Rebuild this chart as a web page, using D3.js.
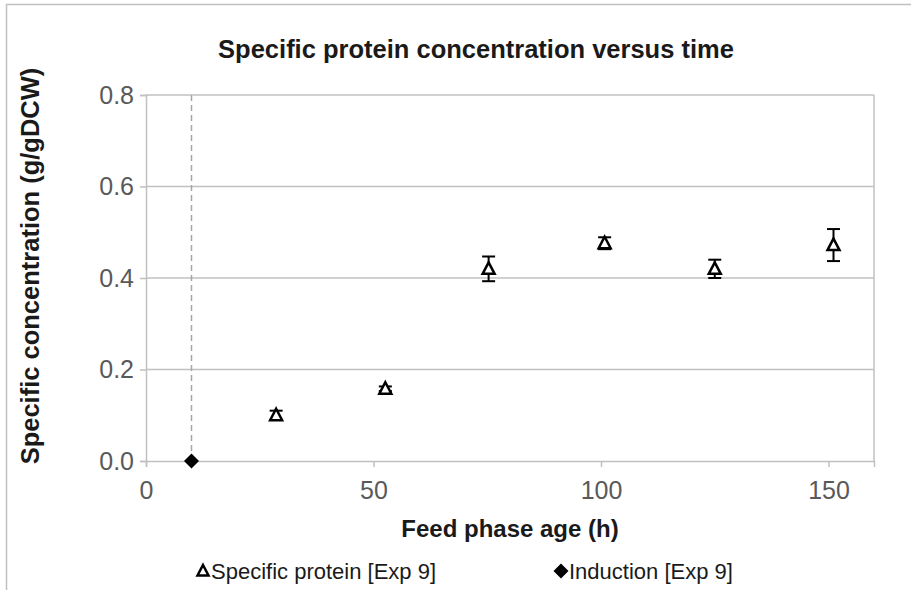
<!DOCTYPE html>
<html>
<head>
<meta charset="utf-8">
<script src="https://cdn.jsdelivr.net/npm/d3@7"></script>
<style>
  html, body { margin: 0; padding: 0; background: #fff; }
  svg { display: block; font-family: "Liberation Sans", Arial, sans-serif; }
</style>
</head>
<body>
<svg id="chart" width="911" height="590"></svg>
<script>
// Feed phase age (h) of each sample and its specific protein concentration (g/gDCW)
const sampleTimes = [28.6, 52.6, 75.3, 100.8, 125.0, 151.1];
const proteinValues = [0.100, 0.158, 0.420, 0.476, 0.420, 0.472];
const proteinErrors = [0.010, 0.005, 0.027, 0.013, 0.020, 0.035];

// Induction point
const inductionTimes = [10];
const inductionValues = [0];

// Axis ticks
const xTicks = [0, 50, 100, 150];
const yTicks = [0.0, 0.2, 0.4, 0.6, 0.8];

const chartTitle = "Specific protein concentration versus time";
const xTitle = "Feed phase age (h)";
const yTitle = "Specific concentration (g/gDCW)";
const legendLabels = ["Specific protein [Exp 9]", "Induction [Exp 9]"];

const svg = d3.select("#chart");
const plot = { left: 146, right: 874, top: 95, bottom: 461 };
const gridColor = "#c0c0c0";
const font = "Liberation Sans, Arial, sans-serif";

const x = d3.scaleLinear().domain([0, 160]).range([plot.left, plot.right]);
const y = d3.scaleLinear().domain([0, 0.8]).range([plot.bottom, plot.top]);

// outer chart frame (runs past the right and bottom edges)
svg.append("rect")
  .attr("x", 6.5).attr("y", 4.5)
  .attr("width", 960).attr("height", 640)
  .attr("fill", "none").attr("stroke", gridColor).attr("stroke-width", 1.5);

// horizontal gridlines
svg.append("g")
  .selectAll("line")
  .data(yTicks.filter(d => d > 0))
  .join("line")
  .attr("x1", plot.left).attr("x2", plot.right)
  .attr("y1", d => y(d)).attr("y2", d => y(d))
  .attr("stroke", gridColor).attr("stroke-width", 1.5);

// right edge of plot area
svg.append("line")
  .attr("x1", plot.right).attr("x2", plot.right)
  .attr("y1", plot.top).attr("y2", plot.bottom)
  .attr("stroke", gridColor).attr("stroke-width", 1.5);

// y axis
const yAxis = svg.append("g")
  .attr("transform", `translate(${plot.left},0)`)
  .call(d3.axisLeft(y).tickValues(yTicks).tickFormat(d3.format(".1f")).tickSize(6).tickPadding(6));
yAxis.select(".domain").attr("stroke", gridColor).attr("stroke-width", 1.5);
yAxis.selectAll(".tick line").attr("stroke", gridColor).attr("stroke-width", 1.5);
yAxis.selectAll(".tick text").attr("font-size", 25).attr("fill", "#595959")
  .attr("font-family", font);

// x axis
const xAxis = svg.append("g")
  .attr("transform", `translate(0,${plot.bottom})`)
  .call(d3.axisBottom(x).tickValues(xTicks).tickFormat(d3.format("d")).tickSize(6).tickPadding(14));
xAxis.select(".domain").attr("stroke", gridColor).attr("stroke-width", 1.5);
xAxis.selectAll(".tick line").attr("stroke", gridColor).attr("stroke-width", 1.5);
xAxis.selectAll(".tick text").attr("font-size", 25).attr("fill", "#595959")
  .attr("font-family", font);

// dashed line marking induction time
svg.append("line")
  .attr("x1", x(inductionTimes[0])).attr("x2", x(inductionTimes[0]))
  .attr("y1", plot.top).attr("y2", plot.bottom)
  .attr("stroke", "#a6a6a6").attr("stroke-width", 1.5)
  .attr("stroke-dasharray", "6,4");

const protein = sampleTimes.map((t, i) => ({ t, v: proteinValues[i], e: proteinErrors[i] }));

// error bars
const eb = svg.append("g").attr("stroke", "#000").attr("stroke-width", 2);
protein.forEach(d => {
  const cx = x(d.t), y0 = y(d.v - d.e), y1 = y(d.v + d.e);
  eb.append("line").attr("x1", cx).attr("x2", cx).attr("y1", y0).attr("y2", y1);
  eb.append("line").attr("x1", cx - 6.5).attr("x2", cx + 6.5).attr("y1", y0).attr("y2", y0);
  eb.append("line").attr("x1", cx - 6.5).attr("x2", cx + 6.5).attr("y1", y1).attr("y2", y1);
});

// open triangle markers
const tri = "M0,-6.5 L6,5 L-6,5 Z";
svg.append("g")
  .selectAll("path")
  .data(protein)
  .join("path")
  .attr("d", tri)
  .attr("transform", d => `translate(${x(d.t)},${y(d.v)})`)
  .attr("fill", "#fff").attr("stroke", "#000").attr("stroke-width", 2.5);

// induction diamond
const diamond = "M0,-7.5 L7.5,0 L0,7.5 L-7.5,0 Z";
svg.append("g")
  .selectAll("path")
  .data(inductionTimes.map((t, i) => ({ t, v: inductionValues[i] })))
  .join("path")
  .attr("d", diamond)
  .attr("transform", d => `translate(${x(d.t)},${y(d.v)})`)
  .attr("fill", "#000");

// chart title
svg.append("text")
  .attr("x", 476).attr("y", 58)
  .attr("text-anchor", "middle")
  .attr("font-size", 25.5).attr("font-weight", "bold").attr("fill", "#1a1a1a")
  .text(chartTitle);

// axis titles
svg.append("text")
  .attr("x", (plot.left + plot.right) / 2).attr("y", 537)
  .attr("text-anchor", "middle")
  .attr("font-size", 24).attr("font-weight", "bold").attr("fill", "#1a1a1a")
  .text(xTitle);

svg.append("text")
  .attr("transform", `translate(39,${(plot.top + plot.bottom) / 2 - 12}) rotate(-90)`)
  .attr("text-anchor", "middle")
  .attr("font-size", 25.5).attr("font-weight", "bold").attr("fill", "#1a1a1a")
  .text(yTitle);

// legend
const legend = svg.append("g");
legend.append("path")
  .attr("d", "M0,-6 L5.5,4.5 L-5.5,4.5 Z")
  .attr("transform", "translate(203,571)")
  .attr("fill", "#fff").attr("stroke", "#000").attr("stroke-width", 2.5);
legend.append("text")
  .attr("x", 211).attr("y", 579)
  .attr("font-size", 22).attr("fill", "#1a1a1a")
  .text(legendLabels[0]);
legend.append("path")
  .attr("d", "M0,-7.5 L7.5,0 L0,7.5 L-7.5,0 Z")
  .attr("transform", "translate(561,571)")
  .attr("fill", "#000");
legend.append("text")
  .attr("x", 569).attr("y", 579)
  .attr("font-size", 22).attr("fill", "#1a1a1a")
  .text(legendLabels[1]);
</script>
</body>
</html>
